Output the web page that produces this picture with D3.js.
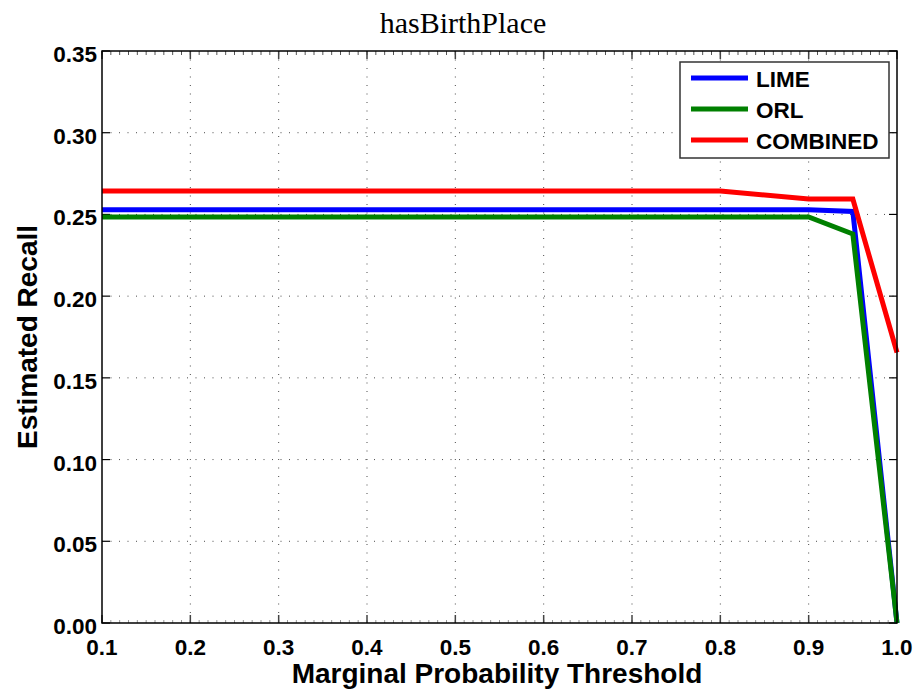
<!DOCTYPE html>
<html>
<head>
<meta charset="utf-8">
<script src="https://cdn.jsdelivr.net/npm/d3@7"></script>
<style>
  body { margin: 0; background: #fff; }
  svg { display: block; }
</style>
</head>
<body>
<svg id="chart" width="916" height="696"></svg>
<script>
// thresholds on the x axis
const thresholds = [0.1, 0.2, 0.3, 0.4, 0.5, 0.6, 0.7, 0.8, 0.9, 0.95, 1.0]
// estimated recall per method
const limeRecall = [0.2528, 0.2528, 0.2528, 0.2528, 0.2528, 0.2528, 0.2528, 0.2528, 0.2528, 0.2518, 0.0]
const orlRecall = [0.2485, 0.2485, 0.2485, 0.2485, 0.2485, 0.2485, 0.2485, 0.2485, 0.2485, 0.238, 0.0]
const combinedRecall = [0.2644, 0.2644, 0.2644, 0.2644, 0.2644, 0.2644, 0.2644, 0.2644, 0.2594, 0.2594, 0.1655]
const seriesNames = ['LIME', 'ORL', 'COMBINED']
const seriesColors = ['#0000ff', '#008000', '#ff0000']
const xTicks = [0.1, 0.2, 0.3, 0.4, 0.5, 0.6, 0.7, 0.8, 0.9, 1.0]
const yTicks = [0, 0.05, 0.1, 0.15, 0.2, 0.25, 0.3, 0.35]

const series = [limeRecall, orlRecall, combinedRecall].map((values, i) => ({
  name: seriesNames[i],
  color: seriesColors[i],
  points: thresholds.map((t, j) => ({ x: t, y: values[j] })),
}))

const margin = { top: 51, right: 19, bottom: 73, left: 102 }
const width = 916
const height = 696
const innerW = width - margin.left - margin.right
const innerH = height - margin.top - margin.bottom

const svg = d3.select('#chart')
const g = svg.append('g').attr('transform', `translate(${margin.left},${margin.top})`)

const x = d3.scaleLinear().domain([0.1, 1.0]).range([0, innerW])
const y = d3.scaleLinear().domain([0, 0.35]).range([innerH, 0])

const tickFont = 'Liberation Sans, Arial, sans-serif'

// dotted grid
g.append('g')
  .selectAll('line')
  .data(xTicks.slice(1, -1))
  .join('line')
  .attr('x1', (d) => x(d))
  .attr('x2', (d) => x(d))
  .attr('y1', 0)
  .attr('y2', innerH)
  .attr('stroke', '#000')
  .attr('stroke-width', 1)
  .attr('stroke-dasharray', '1,7.5')
  .attr('opacity', 0.7)

g.append('g')
  .selectAll('line')
  .data(yTicks.slice(1, -1))
  .join('line')
  .attr('x1', 0)
  .attr('x2', innerW)
  .attr('y1', (d) => y(d))
  .attr('y2', (d) => y(d))
  .attr('stroke', '#000')
  .attr('stroke-width', 1)
  .attr('stroke-dasharray', '1,7.5')
  .attr('opacity', 0.7)

// minor ticks along top and bottom
const minorX = d3.range(0.1, 1.0001, 0.01)
g.append('g')
  .selectAll('line')
  .data(minorX)
  .join('line')
  .attr('x1', (d) => x(d))
  .attr('x2', (d) => x(d))
  .attr('y1', 0)
  .attr('y2', 4)
  .attr('stroke', '#555')
g.append('g')
  .selectAll('line')
  .data(minorX)
  .join('line')
  .attr('x1', (d) => x(d))
  .attr('x2', (d) => x(d))
  .attr('y1', innerH)
  .attr('y2', innerH - 3)
  .attr('stroke', '#999')

// major ticks (inside), all four sides
const tickLen = 8
xTicks.forEach((t) => {
  g.append('line').attr('x1', x(t)).attr('x2', x(t)).attr('y1', innerH).attr('y2', innerH - tickLen).attr('stroke', '#444').attr('stroke-width', 1.5)
  g.append('line').attr('x1', x(t)).attr('x2', x(t)).attr('y1', 0).attr('y2', tickLen).attr('stroke', '#444').attr('stroke-width', 1.5)
})
yTicks.forEach((t) => {
  g.append('line').attr('x1', 0).attr('x2', tickLen).attr('y1', y(t)).attr('y2', y(t)).attr('stroke', '#000').attr('stroke-width', 1.2)
  g.append('line').attr('x1', innerW).attr('x2', innerW - tickLen).attr('y1', y(t)).attr('y2', y(t)).attr('stroke', '#000').attr('stroke-width', 1.2)
})

// lines
const line = d3.line().x((d) => x(d.x)).y((d) => y(d.y))
g.append('g')
  .selectAll('path')
  .data(series)
  .join('path')
  .attr('d', (d) => line(d.points))
  .attr('fill', 'none')
  .attr('stroke', (d) => d.color)
  .attr('stroke-width', 5)
  .attr('stroke-linejoin', 'miter')

// axes frame
g.append('rect')
  .attr('x', 0)
  .attr('y', 0)
  .attr('width', innerW)
  .attr('height', innerH)
  .attr('fill', 'none')
  .attr('stroke', '#000')
  .attr('stroke-width', 1.5)

// tick labels
g.append('g')
  .selectAll('text')
  .data(xTicks)
  .join('text')
  .attr('x', (d) => x(d))
  .attr('y', innerH + 32)
  .attr('text-anchor', 'middle')
  .attr('font-family', tickFont)
  .attr('font-weight', 'bold')
  .attr('font-size', 22.5)
  .text((d) => d.toFixed(1))

g.append('g')
  .selectAll('text')
  .data(yTicks)
  .join('text')
  .attr('x', -5)
  .attr('y', (d) => y(d) + 11)
  .attr('text-anchor', 'end')
  .attr('font-family', tickFont)
  .attr('font-weight', 'bold')
  .attr('font-size', 22.5)
  .text((d) => d.toFixed(2))

// title
svg.append('text')
  .attr('x', 463)
  .attr('y', 33)
  .attr('text-anchor', 'middle')
  .attr('font-family', 'Liberation Serif, Times New Roman, serif')
  .attr('font-size', 30)
  .text('hasBirthPlace')

// axis titles
svg.append('text')
  .attr('x', 497)
  .attr('y', 683)
  .attr('text-anchor', 'middle')
  .attr('font-family', tickFont)
  .attr('font-weight', 'bold')
  .attr('font-size', 28)
  .text('Marginal Probability Threshold')

svg.append('text')
  .attr('transform', `translate(37,${margin.top + innerH / 2}) rotate(-90)`)
  .attr('text-anchor', 'middle')
  .attr('font-family', tickFont)
  .attr('font-weight', 'bold')
  .attr('font-size', 28)
  .text('Estimated Recall')

// legend
const legend = svg.append('g').attr('transform', 'translate(680,62)')
legend.append('rect')
  .attr('width', 209)
  .attr('height', 96)
  .attr('fill', '#fff')
  .attr('stroke', '#333')
  .attr('stroke-width', 1.5)
const items = legend.selectAll('g')
  .data(series)
  .join('g')
  .attr('transform', (d, i) => `translate(0,${16 + i * 31})`)
items.append('line')
  .attr('x1', 11)
  .attr('x2', 68)
  .attr('stroke', (d) => d.color)
  .attr('stroke-width', 5)
items.append('text')
  .attr('x', 76)
  .attr('y', 9)
  .attr('font-family', tickFont)
  .attr('font-weight', 'bold')
  .attr('font-size', 22.5)
  .text((d) => d.name)
</script>
</body>
</html>
